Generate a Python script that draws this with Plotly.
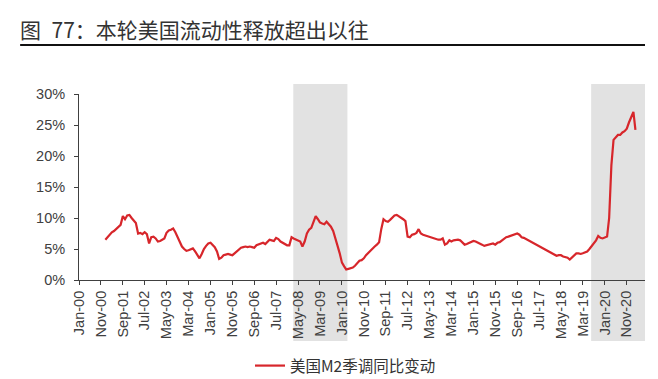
import pandas as pd
import plotly.graph_objects as go

# US M2 (seasonally adjusted) YoY %, monthly, Jan-2001 .. Mar-2021
start_month = "2001-01-01"
m2_yoy = [
    # 2001
    6.5, 6.9, 7.4, 7.7, 7.9, 8.2, 8.6, 8.9, 10.3, 9.8, 10.4, 10.5,
    # 2002
    10.0, 9.6, 9.2, 7.5, 7.6, 7.4, 7.7, 7.4, 5.9, 6.9, 7.0, 6.7,
    # 2003
    6.2, 6.3, 6.5, 6.7, 7.6, 8.0, 8.1, 8.3, 7.7, 6.9, 6.2, 5.4,
    # 2004
    5.0, 4.7, 4.8, 4.9, 5.1, 4.6, 4.0, 3.5, 4.2, 5.0, 5.5, 5.9,
    # 2005
    6.0, 5.7, 5.3, 4.6, 3.4, 3.6, 4.0, 4.1, 4.2, 4.1, 4.0, 4.3,
    # 2006
    4.6, 4.9, 5.2, 5.3, 5.4, 5.3, 5.4, 5.3, 5.2, 5.6, 5.7, 5.9,
    # 2007
    6.0, 5.8, 6.1, 6.5, 6.4, 6.3, 6.8, 6.6, 6.2, 6.0, 5.8, 5.6,
    # 2008
    5.6, 6.9, 6.7, 6.5, 6.3, 6.2, 5.4, 6.2, 7.5, 8.1, 8.4, 9.5,
    # 2009
    10.3, 9.8, 9.3, 9.1, 9.0, 9.4, 9.0, 8.6, 7.9, 6.9, 5.5, 4.3,
    # 2010
    2.8, 2.2, 1.7, 1.8, 1.9, 2.0, 2.3, 2.7, 3.1, 3.2, 3.5, 4.0,
    # 2011
    4.4, 4.8, 5.0, 5.4, 5.7, 6.1, 8.2, 9.8, 9.5, 9.4, 9.7, 10.0,
    # 2012
    10.4, 10.5, 10.3, 10.1, 9.8, 9.5, 7.0, 6.9, 7.3, 7.4, 7.6, 8.2,
    # 2013
    7.5, 7.3, 7.2, 7.1, 7.0, 6.9, 6.7, 6.6, 6.5, 6.5, 6.7, 5.7,
    # 2014
    5.9, 6.4, 6.2, 6.4, 6.5, 6.5, 6.4, 6.1, 5.7, 5.8, 6.0, 6.2,
    # 2015
    6.3, 6.2, 6.0, 5.9, 5.7, 5.5, 5.6, 5.7, 5.8, 5.9, 5.7, 6.0,
    # 2016
    6.1, 6.4, 6.6, 6.9, 7.0, 7.1, 7.2, 7.4, 7.5, 7.3, 6.9, 6.8,
    # 2017
    6.6, 6.4, 6.3, 6.1, 5.9, 5.7, 5.5, 5.3, 5.1, 4.9, 4.7, 4.5,
    # 2018
    4.3, 4.1, 3.9, 4.0, 4.0, 3.8, 3.7, 3.6, 3.3, 3.6, 4.0, 4.3,
    # 2019
    4.3, 4.2, 4.3, 4.4, 4.6, 5.0, 5.4, 5.9, 6.4, 7.1, 6.8, 6.7,
    # 2020
    6.8, 7.0, 10.0, 18.5, 22.6, 23.1, 23.4, 23.4, 23.8, 24.0, 24.4, 25.4,
    # 2021
    26.2, 27.1, 24.2,
]

# shaded periods
shade_starts = ["2008-02-25", "2019-06-25"]
shade_ends = ["2010-03-18", "2021-07-12"]

x_range = ["2000-01-01", "2021-07-12"]
y_ticks = [0, 5, 10, 15, 20, 25, 30]
y_tick_labels = ["0%", "5%", "10%", "15%", "20%", "25%", "30%"]

series_name = "美国M2季调同比变动"
title_text = "图\u200277：本轮美国流动性释放超出以往"

dates = pd.date_range(start_month, periods=len(m2_yoy), freq="MS")

fig = go.Figure()
fig.add_trace(go.Scatter(
    x=dates, y=m2_yoy, mode="lines", name=series_name,
    line=dict(color="#D7262B", width=2.2),
))

shapes = []
for s, e in zip(shade_starts, shade_ends):
    shapes.append(dict(type="rect", xref="x", yref="paper", x0=s, x1=e,
                       y0=-0.328, y1=1.054, fillcolor="#E2E2E2",
                       line=dict(width=0), layer="below"))
# title underline
shapes.append(dict(type="line", xref="paper", yref="paper",
                   x0=-0.104, x1=1.0, y0=1.263, y1=1.263,
                   line=dict(color="#111111", width=2)))

fig.update_layout(
    width=658, height=379,
    margin=dict(l=79, r=13, t=94, b=99, autoexpand=False),
    paper_bgcolor="white", plot_bgcolor="rgba(0,0,0,0)",
    shapes=shapes,
    title=dict(text=title_text, xref="container", yref="container",
               x=20 / 658, xanchor="left", y=1 - 31 / 379, yanchor="middle",
               pad=dict(l=0, r=0, t=0, b=0),
               font=dict(family="Noto Sans CJK SC", size=21, color="#333333")),
    showlegend=True,
    legend=dict(orientation="h", xref="container", yref="container",
                x=250 / 658, xanchor="left", y=1 - 366 / 379, yanchor="middle",
                font=dict(family="Noto Sans CJK SC", size=15.5, color="#333333"),
                bgcolor="rgba(0,0,0,0)"),
    font=dict(family="Liberation Sans, Arial", size=14, color="#404040"),
)

fig.update_xaxes(
    type="date", range=x_range, tick0="2000-01-01", dtick="M10",
    tickformat="%b-%y", tickangle=-90, ticks="outside", ticklen=4,
    tickcolor="#404040", showline=True, linecolor="#404040", linewidth=1,
    showgrid=False, zeroline=False, automargin=False,
    tickfont=dict(family="Liberation Sans, Arial", size=14.5, color="#404040"),
)
fig.update_yaxes(
    range=[0, 30], tickvals=y_ticks, ticktext=y_tick_labels,
    ticks="outside", ticklen=4, tickcolor="#404040",
    showline=True, linecolor="#404040", linewidth=1,
    showgrid=False, zeroline=False, ticklabelstandoff=6, automargin=False,
    tickfont=dict(family="Liberation Sans, Arial", size=14.5, color="#404040"),
)

fig.write_html(
    "out.html",
    config={"displayModeBar": False},
    post_script="document.body.style.margin='0';document.body.style.overflow='hidden';",
)
